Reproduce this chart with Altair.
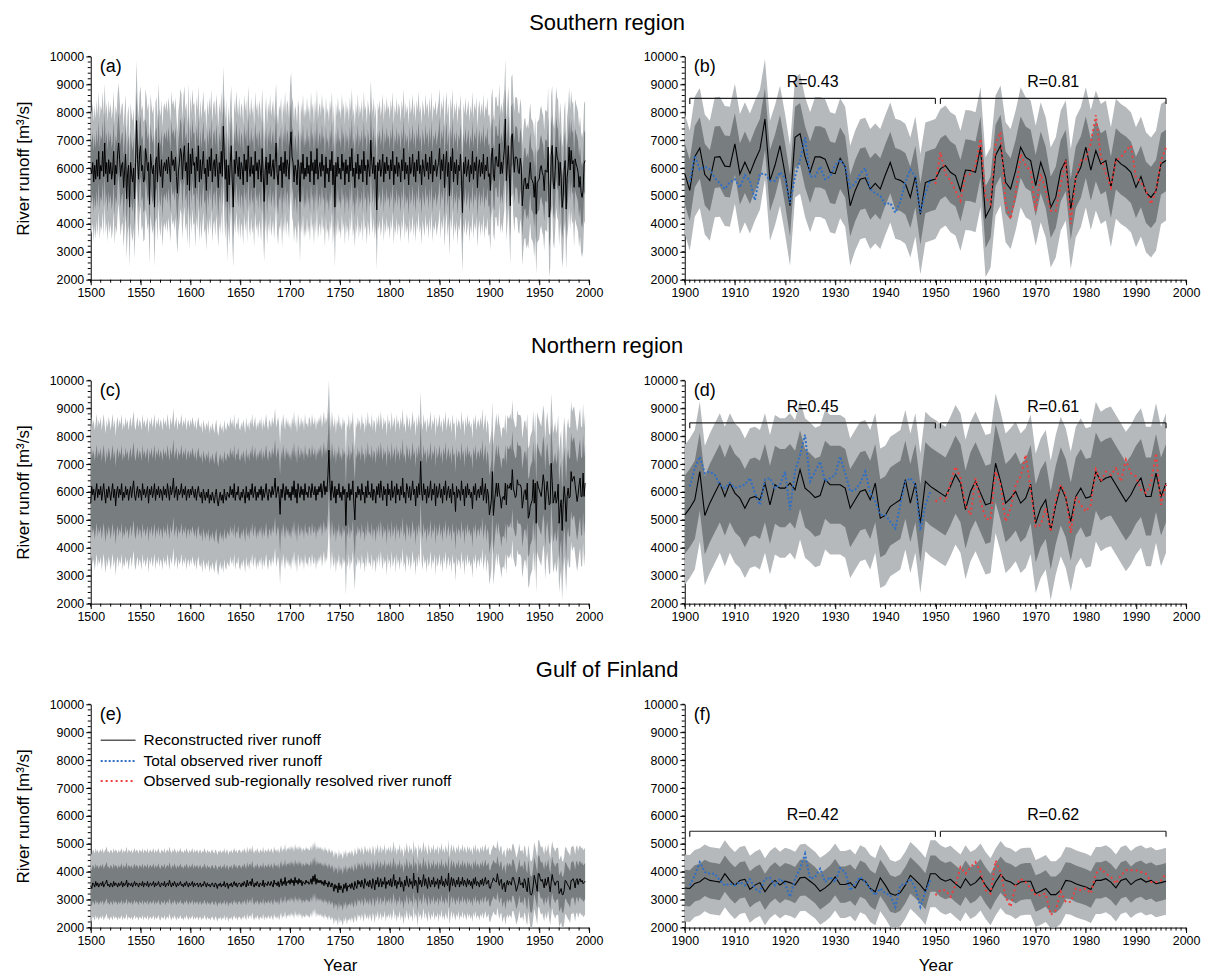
import altair as alt
import pandas as pd

# ---------------- data ----------------
# Reconstructed runoff, 1500-1899 (annual)
SOUTH_EARLY = [
    6000, 5800, 6200, 5500, 6100, 5600, 6300, 5700, 6600, 5600,
    6100, 5900, 6600, 5700, 6900, 5800, 6200, 5500, 6300, 5800,
    6200, 5600, 5900, 6600, 5400, 6100, 5800, 6500, 6900, 6300,
    5700, 6100, 6200, 5300, 5900, 6500, 4900, 5800, 6100, 4600,
    6200, 5800, 5500, 6000, 4900, 6200, 7700, 6300, 5600, 6500,
    6800, 5900, 6100, 5500, 5600, 6700, 6400, 5900, 6200, 4700,
    6500, 6100, 5800, 6100, 4600, 6200, 6400, 5500, 6900, 6000,
    5700, 6300, 5300, 6000, 6200, 5900, 6300, 5800, 6400, 6000,
    5500, 6600, 6100, 6300, 5900, 6400, 5700, 5100, 5900, 6200,
    6700, 6500, 5600, 6400, 6800, 5900, 6200, 5400, 6900, 5200,
    6500, 5800, 6700, 6100, 6200, 5300, 6400, 5900, 6800, 5500,
    6300, 5600, 6100, 6600, 5800, 6000, 5200, 6300, 5700, 6400,
    5900, 6700, 5500, 6100, 6300, 5700, 6500, 6000, 5300, 6200,
    5800, 6600, 5700, 7500, 6400, 5600, 6300, 4800, 6100, 5400,
    6200, 6800, 5500, 4600, 6300, 5800, 6600, 6100, 5700, 6400,
    5600, 6200, 6000, 5400, 6500, 5900, 6300, 5500, 6800, 6000,
    5700, 6400, 5800, 6100, 5300, 6600, 5900, 6200, 5600, 6300,
    6000, 5500, 6700, 5800, 4800, 5900, 6400, 5400, 6200, 5800,
    6500, 5700, 6000, 6300, 5600, 6200, 6900, 5800, 5400, 6100,
    5900, 6400, 5300, 6200, 5800, 6600, 5700, 6300, 6100, 5600,
    6800, 7300, 6400, 6200, 5500, 6100, 5900, 5400, 6300, 6000,
    4800, 6200, 5800, 6500, 5600, 6000, 5700, 6400, 5800, 6100,
    5500, 6600, 5900, 6200, 5400, 6300, 5800, 6700, 5600, 6000,
    6200, 5700, 6500, 5900, 6100, 5300, 6400, 5800, 6000, 5500,
    6300, 5900, 6600, 5400, 6100, 4600, 6200, 5700, 6400, 5800,
    6000, 5600, 6500, 5900, 6200, 5400, 6300, 5800, 6100, 5500,
    6400, 5900, 6700, 5700, 6000, 5300, 6200, 5800, 6500, 5600,
    6100, 5800, 6300, 5500, 6600, 5900, 6100, 5400, 6300, 6000,
    5700, 7000, 6200, 5800, 6400, 5600, 6100, 4500, 6200, 5900,
    6300, 5700, 6000, 6500, 5500, 6200, 5800, 6400, 5900, 6100,
    5600, 6300, 5900, 6600, 5400, 6100, 5800, 6400, 5700, 6200,
    6000, 5500, 6300, 5900, 6700, 5600, 6200, 5800, 6100, 5400,
    6400, 5800, 6000, 6500, 5700, 6200, 5500, 6300, 5900, 6600,
    5800, 6100, 5400, 6300, 6000, 5700, 6500, 5900, 6200, 5600,
    6400, 5800, 6600, 5500, 6100, 5900, 6300, 5700, 6000, 6200,
    6700, 5600, 6300, 5900, 6500, 5300, 6100, 6600, 5700, 6200,
    5000, 6400, 5900, 6700, 5500, 6200, 5800, 6300, 5400, 6100,
    5900, 6500, 5600, 4400, 6200, 5800, 6400, 5700, 6000, 6300,
    5500, 6100, 5800, 6600, 5600, 6200, 5900, 6400, 5300, 6000,
    6300, 5700, 6200, 5800, 6500, 5600, 6100, 5900, 6400, 5700,
]
NORTH_EARLY = [
    5600, 6200, 5900, 6100, 5700, 6000, 6300, 5800, 6100, 5900,
    6200, 5700, 6000, 6300, 5900, 5600, 6100, 5800, 6200, 6000,
    5700, 6000, 6300, 5800, 6100, 5500, 6000, 6200, 5800, 6100,
    5900, 6300, 5700, 6000, 5800, 6200, 5900, 6100, 5700, 6000,
    6200, 5800, 6100, 6400, 5900, 5700, 6000, 6200, 5800, 6100,
    6000, 5700, 6300, 5900, 6100, 5800, 6000, 6200, 5600, 6100,
    5900, 6200, 5800, 6000, 6300, 5700, 6100, 5900, 6200, 5800,
    6100, 6000, 5700, 6200, 5900, 6100, 5800, 6300, 6000, 5700,
    6200, 5900, 6100, 6500, 5800, 6000, 6200, 5700, 6100, 5900,
    6000, 6300, 5800, 6100, 5900, 6200, 5700, 6000, 6100, 5800,
    6100, 5900, 6200, 6000, 5800, 6100, 5700, 6000, 6200, 5900,
    5800, 6000, 5600, 6100, 5900, 5700, 6000, 5800, 6100, 5600,
    5900, 5700, 6000, 5800, 5600, 5900, 6100, 5700, 5500, 5800,
    6000, 5700, 5900, 5600, 6100, 5800, 5700, 6000, 5900, 5800,
    6200, 5900, 6100, 5800, 6300, 5700, 6000, 5900, 6200, 5800,
    5700, 6000, 5800, 6100, 5900, 5600, 6200, 5800, 6000, 5700,
    6100, 5900, 6300, 5800, 6000, 6200, 5700, 6000, 5800, 6100,
    5900, 6200, 5700, 6100, 5800, 6000, 6300, 5900, 5700, 6100,
    6000, 5800, 6200, 5900, 6100, 6500, 5800, 6000, 6200, 5900,
    5200, 6100, 5800, 6300, 6000, 5700, 6200, 5900, 6100, 5800,
    6000, 5700, 6200, 5900, 6400, 5800, 6100, 5600, 6300, 6000,
    5800, 6200, 5900, 6100, 5700, 6300, 5900, 6000, 5800, 6200,
    6100, 5800, 6300, 6000, 5900, 6200, 5700, 6100, 5900, 6200,
    6000, 6300, 5800, 6100, 6400, 5900, 6200, 6000, 6600, 7500,
    6300, 5700, 6400, 6000, 5800, 6200, 5600, 6100, 5900, 6300,
    5800, 6000, 5700, 6200, 5900, 6100, 4800, 6000, 5800, 6300,
    5700, 6100, 5900, 6400, 5600, 5000, 6000, 5800, 6200, 5900,
    6100, 5700, 6300, 5900, 6000, 5600, 6200, 5800, 6400, 5900,
    6000, 5800, 6300, 5700, 6100, 6000, 5600, 6200, 5900, 6300,
    5800, 6400, 6000, 5700, 6200, 5900, 6100, 5500, 6300, 5900,
    6100, 5700, 6400, 5800, 6000, 6200, 5600, 6300, 5900, 6100,
    5700, 6200, 5900, 6500, 5800, 6000, 5600, 6300, 6100, 5800,
    6200, 5700, 6000, 6400, 5900, 6100, 5500, 6200, 5800, 6300,
    5900, 7100, 6000, 5700, 6300, 5900, 6100, 5600, 6200, 5800,
    6000, 6400, 5700, 6100, 5900, 6300, 5500, 6200, 5800, 6000,
    6300, 5800, 6100, 5600, 6200, 5900, 6400, 5700, 6000, 6200,
    5800, 6100, 5600, 6300, 5900, 6000, 5300, 6200, 5800, 6100,
    6000, 5700, 6400, 5900, 6100, 5500, 6200, 5800, 6300, 5900,
    6100, 5800, 6000, 5400, 6200, 5900, 6300, 5700, 6000, 6100,
    5800, 6200, 5900, 6500, 5700, 6000, 6300, 5600, 6100, 5900,
]
GULF_EARLY = [
    3500, 3400, 3600, 3550, 3450, 3650, 3500, 3600, 3450, 3550,
    3600, 3500, 3650, 3450, 3550, 3600, 3700, 3500, 3550, 3450,
    3600, 3550, 3450, 3650, 3500, 3600, 3550, 3450, 3600, 3500,
    3550, 3650, 3450, 3600, 3500, 3550, 3700, 3450, 3600, 3550,
    3500, 3600, 3450, 3550, 3650, 3500, 3600, 3550, 3450, 3600,
    3550, 3500, 3650, 3450, 3600, 3550, 3500, 3650, 3450, 3550,
    3600, 3500, 3550, 3650, 3450, 3600, 3500, 3550, 3650, 3500,
    3450, 3600, 3550, 3500, 3650, 3450, 3550, 3600, 3500, 3700,
    3550, 3450, 3600, 3500, 3650, 3550, 3450, 3600, 3500, 3550,
    3650, 3500, 3550, 3450, 3600, 3500, 3650, 3550, 3450, 3600,
    3500, 3550, 3650, 3450, 3600, 3500, 3550, 3600, 3450, 3550,
    3600, 3450, 3550, 3500, 3650, 3550, 3450, 3600, 3500, 3550,
    3450, 3550, 3600, 3500, 3450, 3600, 3550, 3400, 3550, 3500,
    3600, 3450, 3550, 3500, 3650, 3450, 3550, 3600, 3400, 3550,
    3500, 3600, 3450, 3550, 3650, 3500, 3600, 3450, 3550, 3600,
    3550, 3450, 3600, 3500, 3650, 3550, 3450, 3700, 3500, 3600,
    3650, 3500, 3750, 3550, 3450, 3600, 3500, 3650, 3550, 3450,
    3600, 3550, 3500, 3700, 3450, 3600, 3550, 3500, 3650, 3550,
    3500, 3650, 3550, 3450, 3700, 3550, 3600, 3500, 3650, 3450,
    3600, 3750, 3500, 3650, 3550, 3800, 3500, 3650, 3600, 3700,
    3550, 3750, 3600, 3700, 3500, 3800, 3600, 3700, 3550, 3750,
    3600, 3700, 3500, 3650, 3600, 3550, 3700, 3600, 3650, 3550,
    3600, 3750, 3550, 3850, 3650, 3900, 3550, 3750, 3600, 3700,
    3600, 3700, 3550, 3650, 3500, 3700, 3550, 3600, 3450, 3650,
    3550, 3450, 3600, 3500, 3300, 3550, 3400, 3500, 3250, 3600,
    3350, 3500, 3400, 3250, 3550, 3400, 3600, 3300, 3500, 3450,
    3550, 3400, 3600, 3450, 3350, 3650, 3500, 3400, 3700, 3550,
    3650, 3450, 3700, 3550, 3400, 3750, 3600, 3500, 3650, 3450,
    3700, 3550, 3400, 3750, 3600, 3350, 3700, 3550, 3800, 3450,
    3600, 3750, 3450, 3650, 3550, 3800, 3400, 3650, 3550, 3700,
    3500, 3750, 3450, 3650, 3900, 3500, 3700, 3400, 3650, 3550,
    3800, 3450, 3650, 3550, 3300, 3700, 3500, 3850, 3600, 3450,
    3750, 3550, 3650, 3400, 3950, 3500, 3700, 3600, 3250, 3800,
    3550, 3700, 3450, 3650, 3900, 3500, 3750, 3550, 3400, 3800,
    3600, 3450, 3700, 3550, 3800, 3450, 3650, 3550, 3750, 3400,
    3700, 3550, 3850, 3500, 3650, 3450, 3750, 3600, 3500, 3950,
    3300, 3600, 3800, 3500, 3750, 3600, 3450, 3700, 3550, 3800,
    3450, 3650, 3550, 3800, 3500, 3700, 3600, 3450, 3750, 3550,
    3700, 3500, 3650, 3400, 3750, 3550, 3800, 3500, 3650, 3600,
    3450, 3700, 3550, 3750, 3500, 3650, 3800, 3550, 3600, 3700,
]
# Reconstructed runoff, 1900-1996 (annual)
SOUTH_RECENT = [
    5800, 5200, 6410, 6720, 5770, 5550, 6390, 6410, 6070, 6050,
    6870, 5790, 6210, 5810, 6270, 6670, 7760, 5550, 6100, 6800,
    5800, 4650, 7100, 7230, 6400, 5850, 6400, 6400, 6320, 5850,
    5800, 6350, 6050, 4650, 5200, 5600, 5650, 5250, 5450, 5250,
    5750, 6200, 5620, 5560, 5440, 4950, 5700, 4350, 5480, 5550,
    5610, 5970, 6090, 5850, 5730, 5190, 5930, 5910, 5850, 6750,
    4240, 4590, 6450, 6810, 5490, 5250, 5910, 6750, 6390, 6270,
    5370, 6210, 5670, 4590, 4950, 5910, 6270, 4530, 5670, 6030,
    6750, 5930, 6630, 6150, 6270, 5310, 6330, 6150, 6030, 5850,
    5310, 5700, 5130, 4950, 5190, 6150, 6270,
]
NORTH_RECENT = [
    5180, 5420, 5720, 6730, 5160, 5600, 5960, 6320, 5840, 6320,
    5960, 5780, 5420, 5780, 5840, 5720, 6320, 5540, 6260, 6140,
    6140, 6320, 6080, 6800, 6140, 5990, 5800, 5870, 6440, 6260,
    6260, 6260, 6140, 5420, 5720, 6020, 6080, 5720, 6320, 5060,
    5160, 5480, 5600, 5720, 6440, 5600, 6320, 4880, 6380, 6200,
    6080, 5960, 5840, 6200, 6620, 6320, 5370, 6020, 6380, 5960,
    5540, 5600, 7030, 6380, 5600, 5780, 6020, 5600, 5780, 6280,
    4880, 5420, 5720, 4620, 5540, 6200, 5780, 4940, 5840, 6140,
    5780, 5840, 6730, 6380, 6500, 6560, 6260, 5960, 5660, 5900,
    6260, 6500, 5840, 5840, 6680, 5840, 6320,
]
GULF_RECENT = [
    3420, 3400, 3580, 3640, 3780, 3690, 3660, 3630, 3930, 3690,
    3510, 3690, 3730, 3370, 3520, 3610, 3280, 3540, 3690, 3520,
    3660, 3610, 3520, 3780, 3800, 3660, 3520, 3300, 3420, 3570,
    3810, 3540, 3540, 3610, 3420, 3750, 3660, 3400, 3280, 3780,
    3520, 3220, 3160, 3250, 3520, 3870, 3700, 3520, 3300, 3930,
    3930, 3750, 3660, 3730, 3570, 3420, 3750, 3510, 3610, 3810,
    3510, 3280, 3630, 3900, 3690, 3630, 3510, 3630, 3660, 3660,
    3220, 3300, 3400, 3180, 3180, 3340, 3690, 3660, 3570, 3510,
    3450, 3360, 3690, 3690, 3750, 3630, 3420, 3690, 3750, 3540,
    3690, 3750, 3630, 3690, 3570, 3610, 3660,
]
# Total observed runoff, 1901-1949
SOUTH_TOTAL_OBS = [
    5500, 6450, 5950, 6050, 5950, 5650, 5450, 5250, 5500, 5600,
    5300, 5750, 5550, 4850, 5800, 5800, 5550, 5550, 5850, 5650,
    4750, 5700, 6300, 7100, 5700, 5700, 6050, 5600, 5700, 6100,
    6300, 6050, 5300, 5450, 5800, 6000, 5250, 5100, 5000, 4700,
    4750, 4400, 4800, 5500, 5950, 5700, 4400, 5100, 5600,
]
NORTH_TOTAL_OBS = [
    6200, 6850, 7270, 6670, 6730, 6610, 6260, 6140, 6320, 6140,
    6200, 6260, 6500, 5960, 5540, 6440, 6500, 6140, 6260, 6730,
    5360, 6730, 7330, 8050, 6380, 6730, 7090, 6380, 6500, 6610,
    7270, 6670, 6020, 6080, 6320, 6730, 5960, 5660, 5180, 5180,
    4940, 4700, 5540, 6380, 6500, 6260, 4620, 5540, 6020,
]
GULF_TOTAL_OBS = [
    3510, 3870, 4340, 3990, 3930, 3930, 3690, 3510, 3570, 3510,
    3630, 3510, 3730, 3400, 3280, 3750, 3780, 3510, 3750, 3570,
    3100, 3750, 4110, 4640, 3750, 3810, 4110, 3630, 3810, 3630,
    4130, 3990, 3330, 3570, 3810, 3630, 3400, 3160, 3400, 3220,
    3160, 2740, 3510, 3570, 3750, 3400, 2740, 3280, 3690,
]
# Observed sub-regionally resolved runoff, 1950-1996
SOUTH_SUB_OBS = [
    5430, 6570, 5790, 5550, 5190, 4830, 5730, 5790, 6090, 7050,
    4950, 4710, 6870, 7290, 4710, 4170, 5070, 6510, 6090, 5910,
    4470, 5790, 5190, 4470, 4470, 5430, 6270, 4000, 5670, 6270,
    6300, 6900, 7900, 6400, 5800, 5310, 6270, 6390, 6630, 6810,
    5670, 5490, 5190, 4710, 5190, 6270, 6750,
]
NORTH_SUB_OBS = [
    5660, 5780, 5660, 6320, 6910, 6500, 5540, 5180, 6500, 5660,
    5060, 5000, 6730, 6260, 4940, 5420, 6260, 6560, 7330, 6080,
    4760, 4820, 5420, 4580, 5720, 6260, 5900, 4520, 5840, 5540,
    5300, 5540, 6800, 6380, 6730, 6610, 6850, 6380, 7150, 6670,
    6560, 6080, 5960, 6320, 7390, 5540, 6260,
]
GULF_SUB_OBS = [
    3160, 3340, 3340, 3100, 3510, 4160, 3930, 4160, 4340, 3990,
    3340, 3220, 4400, 3990, 3100, 2740, 3510, 3750, 3630, 3400,
    3160, 3160, 3220, 2450, 2620, 3280, 2920, 2920, 3400, 3340,
    3400, 3220, 3930, 4110, 3930, 3810, 3570, 3870, 4050, 4050,
    4050, 3990, 3930, 3630, 3630, 3690, 3930,
]

RECENT_START = 1900
TOTAL_OBS_START = 1901
SUB_OBS_START = 1950
LAST_YEAR = 1996

# uncertainty half-widths (inner and outer band)
BAND_INNER = {"south": 1100, "north": 1400, "gulf": 650}
BAND_OUTER = {"south": 2150, "north": 2500, "gulf": 1200}

ROW_TITLES = {"south": "Southern region", "north": "Northern region", "gulf": "Gulf of Finland"}
LETTERS = {"south": ("(a)", "(b)"), "north": ("(c)", "(d)"), "gulf": ("(e)", "(f)")}
R_LABELS = {"south": ["R=0.43", "R=0.81"], "north": ["R=0.45", "R=0.61"], "gulf": ["R=0.42", "R=0.62"]}
BRACKET_LEVEL = {"south": 8500, "north": 8480, "gulf": 5450}
BRACKET_PERIODS = [(1901, 1950), (1951, 1996)]
LEGEND_LABELS = ["Reconstructed river runoff", "Total observed river runoff",
                 "Observed sub-regionally resolved river runoff"]

# axis ticks
Y_MAJOR = list(range(2000, 10001, 1000))
Y_MINOR = list(range(2000, 10001, 200))
X_LONG_MAJOR = list(range(1500, 2001, 50))
X_LONG_MINOR = list(range(1500, 2001, 10))
X_RECENT_MAJOR = list(range(1900, 2001, 10))
X_RECENT_MINOR = list(range(1900, 2001, 1))

DATA = {
    "south": (SOUTH_EARLY, SOUTH_RECENT, SOUTH_TOTAL_OBS, SOUTH_SUB_OBS),
    "north": (NORTH_EARLY, NORTH_RECENT, NORTH_TOTAL_OBS, NORTH_SUB_OBS),
    "gulf": (GULF_EARLY, GULF_RECENT, GULF_TOTAL_OBS, GULF_SUB_OBS),
}

# ---------------- styling ----------------
FONT = "Liberation Sans"
LIGHT = "#b5b9bc"
DARK = "#787d80"
BLUE = "#2f6fc6"
RED = "#f23d3d"
W_LONG, W_RECENT, H = 500, 503, 224
YSCALE = alt.Scale(domain=[2000, 10000], nice=False, zero=False)


def series(values, start):
    return pd.DataFrame({"year": list(range(start, start + len(values))), "value": values})


def y_axis(show_title):
    return alt.Axis(values=Y_MAJOR, format="d", tickSize=5, labelOverlap=False, labelFlush=False,
                    grid=False, title="River runoff [m³/s]" if show_title else None)


def x_axis(major, show_title):
    return alt.Axis(values=major, format="d", tickSize=5, labelOverlap=False, labelFlush=False,
                    grid=False, title="Year" if show_title else None)


class Pos:
    """Position channel builders sharing the same scales and axes for every layer."""

    def __init__(self, xs, xax, yax):
        self.xs, self.xax, self.yax = xs, xax, yax

    def x(self, f):
        return alt.X(f, scale=self.xs, axis=self.xax)

    def y(self, f):
        return alt.Y(f, scale=YSCALE, axis=self.yax)


def minor_ticks(p, minor_x):
    ydf = pd.DataFrame({"v": Y_MINOR})
    xdf = pd.DataFrame({"v": minor_x})
    ym = alt.Chart(ydf).mark_rule(color="black", strokeWidth=1).encode(
        y=p.y("v:Q"), x=alt.value(-3), x2=alt.value(0))
    xm = alt.Chart(xdf).mark_rule(color="black", strokeWidth=1).encode(
        x=p.x("v:Q"), y=alt.value(H), y2=alt.value(H + 3))
    return [ym, xm]


def band_layers(df, key, p):
    base = alt.Chart(df).transform_calculate(
        lo2=f"datum.value - {BAND_OUTER[key]}", hi2=f"datum.value + {BAND_OUTER[key]}",
        lo1=f"datum.value - {BAND_INNER[key]}", hi1=f"datum.value + {BAND_INNER[key]}",
    )
    light = base.mark_area(color=LIGHT, clip=True).encode(x=p.x("year:Q"), y=p.y("lo2:Q"), y2="hi2:Q")
    dark = base.mark_area(color=DARK, clip=True).encode(x=p.x("year:Q"), y=p.y("lo1:Q"), y2="hi1:Q")
    return [light, dark]


def letter_layer(letter):
    return alt.Chart(alt.Data(values=[{"t": letter}])).mark_text(
        align="left", baseline="middle", fontSize=18, font=FONT, color="black"
    ).encode(x=alt.value(9), y=alt.value(11), text="t:N")


def long_panel(key, bottom):
    early, recent, _, _ = DATA[key]
    full = early + recent
    df = series(full, LAST_YEAR + 1 - len(full))
    xs = alt.Scale(domain=[1500, 2000], nice=False, zero=False)
    p = Pos(xs, x_axis(X_LONG_MAJOR, bottom), y_axis(True))
    layers = band_layers(df, key, p)
    layers.append(alt.Chart(df).mark_line(color="black", strokeWidth=1).encode(
        x=p.x("year:Q"), y=p.y("value:Q")))
    layers.append(letter_layer(LETTERS[key][0]))
    layers += minor_ticks(p, X_LONG_MINOR)
    if key == "gulf":
        styles = [("#5a5a5a", 1.5, [1, 0]), (BLUE, 2, [2, 2]), (RED, 2, [2, 3])]
        ys = [36, 57, 77]
        for (col, sw, dash), yy, lab in zip(styles, ys, LEGEND_LABELS):
            one = alt.Data(values=[{"t": lab}])
            layers.append(alt.Chart(one).mark_rule(color=col, strokeWidth=sw, strokeDash=dash).encode(
                x=alt.value(10), x2=alt.value(45), y=alt.value(yy)))
            layers.append(alt.Chart(one).mark_text(
                align="left", baseline="middle", fontSize=15.5, font=FONT, color="black"
            ).encode(x=alt.value(53), y=alt.value(yy), text="t:N"))
    return alt.layer(*layers).properties(width=W_LONG, height=H)


def recent_panel(key, bottom):
    _, recent, total_obs, sub_obs = DATA[key]
    df = series(recent, RECENT_START)
    xs = alt.Scale(domain=[1900, 2000], nice=False, zero=False)
    p = Pos(xs, x_axis(X_RECENT_MAJOR, bottom), y_axis(False))
    layers = band_layers(df, key, p)
    layers.append(alt.Chart(df).mark_line(color="black", strokeWidth=1.1).encode(
        x=p.x("year:Q"), y=p.y("value:Q")))
    layers.append(alt.Chart(series(total_obs, TOTAL_OBS_START)).mark_line(
        color=BLUE, strokeWidth=2, strokeDash=[2, 2]).encode(x=p.x("year:Q"), y=p.y("value:Q")))
    layers.append(alt.Chart(series(sub_obs, SUB_OBS_START)).mark_line(
        color=RED, strokeWidth=2, strokeDash=[2, 3]).encode(x=p.x("year:Q"), y=p.y("value:Q")))

    lvl = BRACKET_LEVEL[key]
    rows = []
    for (s, e), lab in zip(BRACKET_PERIODS, R_LABELS[key]):
        rows.append({"x0": s, "x1": e, "y": lvl, "ylo": lvl - 200, "xm": (s + e) / 2,
                     "ty": lvl + 580, "label": lab})
    bdf = pd.DataFrame(rows)
    layers.append(alt.Chart(bdf).mark_rule(color="#222222", strokeWidth=1.2).encode(
        x=p.x("x0:Q"), x2="x1:Q", y=p.y("y:Q")))
    layers.append(alt.Chart(bdf).transform_fold(["x0", "x1"], as_=["end", "xe"]).mark_rule(
        color="#222222", strokeWidth=1.2).encode(x=p.x("xe:Q"), y=p.y("ylo:Q"), y2="y:Q"))
    layers.append(alt.Chart(bdf).mark_text(fontSize=16, font=FONT, color="black", baseline="middle").encode(
        x=p.x("xm:Q"), y=p.y("ty:Q"), text="label:N"))
    layers.append(letter_layer(LETTERS[key][1]))
    layers += minor_ticks(p, X_RECENT_MINOR)
    return alt.layer(*layers).properties(width=W_RECENT, height=H)


rows = []
for key in ["south", "north", "gulf"]:
    bottom = key == "gulf"
    rows.append(alt.hconcat(
        long_panel(key, bottom), recent_panel(key, bottom), spacing=40,
        title=alt.TitleParams(text=ROW_TITLES[key], fontSize=22, fontWeight="normal", font=FONT,
                              color="black", anchor="middle", offset=16),
    ))

chart = alt.vconcat(*rows, spacing=36).properties(
    padding={"left": 6, "top": 2, "right": 10, "bottom": 0}
).configure_view(stroke=None).configure_axis(
    domainColor="black", tickColor="black", labelColor="black", labelFont=FONT, labelFontSize=12.5,
    titleFont=FONT, titleFontSize=17, titleFontWeight="normal", titleColor="black",
    domainWidth=1, tickWidth=1, labelPadding=2,
).configure_axisY(titlePadding=17).configure_axisX(titlePadding=11)

chart.save("out.html", embed_options={"renderer": "svg", "actions": False})
